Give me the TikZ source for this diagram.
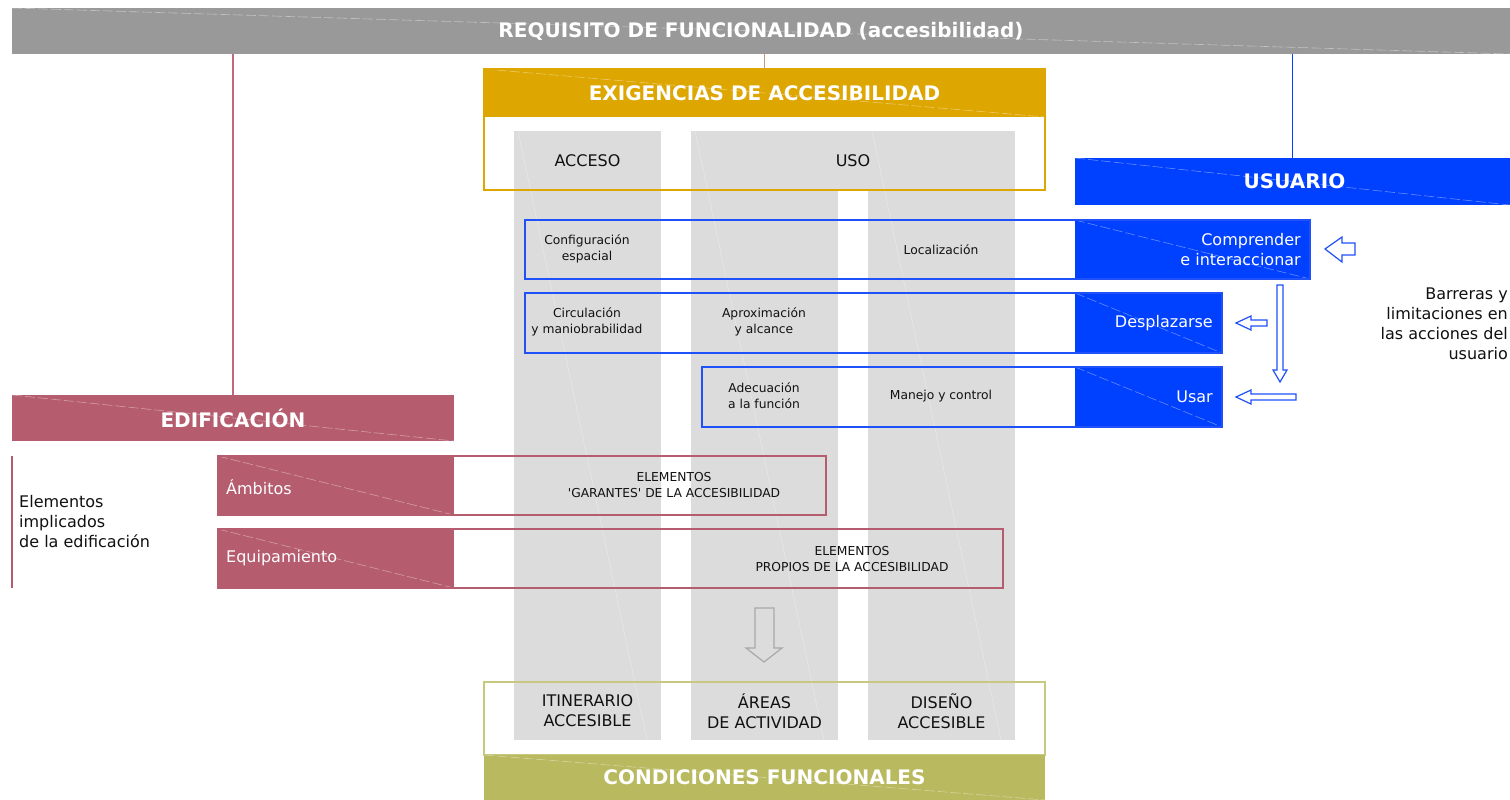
\documentclass[tikz,border=0pt]{standalone}
\usepackage{fontspec}
\setmainfont{DejaVu Sans}[Ligatures=TeXOff]
\usetikzlibrary{fit}
\definecolor{bargray}{HTML}{999999}
\definecolor{colgray}{HTML}{DCDCDC}
\definecolor{exyellow}{HTML}{DDA600}
\definecolor{userblue}{HTML}{0040FF}
\definecolor{lineblue}{HTML}{2050F8}
\definecolor{edpink}{HTML}{B65C6F}
\definecolor{pinkline}{HTML}{C0687C}
\definecolor{tanline}{HTML}{C4967A}
\definecolor{olive}{HTML}{B9B960}
\definecolor{oliveline}{HTML}{C8C880}
\definecolor{arrowgray}{HTML}{A8A8A8}
\definecolor{txt}{HTML}{111111}
\begin{document}
\begin{tikzpicture}[x=1pt,y=-1pt,
  area/.style={fit={#1}, inner sep=0pt, outer sep=0pt},
  glossy/.style={path picture={\draw[draw=white, draw opacity=.4, line width=.6pt, dash pattern=on 10pt off 3pt]
      (path picture bounding box.north west) -- (path picture bounding box.south east);}},
  faint/.style={path picture={\draw[draw=white, draw opacity=.35, line width=.5pt]
      ([xshift=4pt]path picture bounding box.north west) -- ([xshift=-14pt]path picture bounding box.south east);}},
  head/.style={text=white, font=\fontsize{20}{24}\selectfont\bfseries, inner sep=0pt},
  med/.style={text=txt, font=\fontsize{16}{20}\selectfont, align=center, inner sep=0pt},
  small/.style={text=txt, font=\fontsize{12.3}{16}\selectfont, align=center, inner sep=0pt},
  whitetxt/.style={text=white, font=\fontsize{16}{20}\selectfont, inner sep=0pt},
  blueout/.style={draw=lineblue, line width=1.8pt},
  pinkout/.style={draw=edpink, line width=1.8pt},
  hollowblue/.style={draw=lineblue, line width=1.2pt, fill=white, line join=miter},
]
\useasboundingbox[fill=white] (0,0) rectangle (1510,800);

% gray columns
\node[area={(514,131)(661,740)}, fill=colgray, faint] (cacc) {};
\node[area={(691,131)(838,740)}, fill=colgray, faint] (cuso1) {};
\node[area={(868,131)(1015,740)}, fill=colgray, faint] (cuso2) {};
\node[area={(837,131)(869,190)}, fill=colgray] (cusoj) {};

% top bar
\node[area={(12,8)(1510,54)}, fill=bargray, glossy] (req) {};
\node[head] (reqt) at (req.center) {REQUISITO DE FUNCIONALIDAD (accesibilidad)};

% exigencias
\node[area={(484,69)(1045,117)}, fill=exyellow, glossy] (exig) {};
\node[head] (exigt) at (exig.center) {EXIGENCIAS DE ACCESIBILIDAD};
\node[area={(484,69)(1045,190)}, draw=exyellow, line width=1.5pt] (exigbox) {};
\node[med] (acceso) at (587.5,161) {ACCESO};
\node[med] (uso) at (853,161) {USO};
\draw[tanline, line width=1.5pt] (req.south -| exig.north) -- (exig.north);

% usuario
\node[area={(1075,158)(1510,205)}, fill=userblue, glossy] (user) {};
\node[head] (usert) at ([xshift=2pt]user.center) {USUARIO};
\draw[userblue, line width=1.5pt] (req.south -| user.north) -- (user.north);

% row 1
\node[area={(1075,220)(1310,279)}, fill=userblue, glossy] (comp) {};
\node[area={(525,220)(1310,279)}, blueout] (row1) {};
\node[whitetxt, anchor=east, align=right] (compt) at ([xshift=-9pt]comp.east) {Comprender\\e interaccionar};
\node[small] (conf) at (587,249) {Configuración\\espacial};
\node[small] (loc) at (941,250) {Localización};

% row 2
\node[area={(1075,293)(1222,353)}, fill=userblue, glossy] (desp) {};
\node[area={(525,293)(1222,353)}, blueout] (row2) {};
\node[whitetxt, anchor=east] (despt) at ([xshift=-9pt]desp.east) {Desplazarse};
\node[small] (circ) at (587,322) {Circulación\\y maniobrabilidad};
\node[small] (aprox) at (764,322) {Aproximación\\y alcance};

% row 3
\node[area={(1075,367)(1222,427)}, fill=userblue, glossy] (usar) {};
\node[area={(702,367)(1222,427)}, blueout] (row3) {};
\node[whitetxt, anchor=east] (usart) at ([xshift=-9pt]usar.east) {Usar};
\node[small] (adec) at (764,396) {Adecuación\\a la función};
\node[small] (manejo) at (941,396) {Manejo y control};

% barreras
\node[med, anchor=east, align=right] (barr) at (1508,324) {Barreras y\\limitaciones en\\las acciones del\\usuario};

% hollow arrows
\draw[hollowblue] (1325,249) -- (1342,237) -- (1342,243) -- (1355,243) -- (1355,255) -- (1342,255) -- (1342,262) -- cycle;
\draw[hollowblue] (1277,285) -- (1283,285) -- (1283,370) -- (1287,370) -- (1280,382) -- (1273,370) -- (1277,370) -- cycle;
\draw[hollowblue] (1236,323) -- (1251,316) -- (1251,320) -- (1267,320) -- (1267,326) -- (1251,326) -- (1251,330) -- cycle;
\draw[hollowblue] (1236,397) -- (1251,390) -- (1251,394) -- (1296,394) -- (1296,400) -- (1251,400) -- (1251,404) -- cycle;

% edificacion
\node[area={(12,395)(454,441)}, fill=edpink, glossy] (edif) {};
\node[head] (ediftext) at (edif.center) {EDIFICACIÓN};
\draw[pinkline, line width=1.5pt] (req.south -| edif.north) -- (edif.north);
\coordinate (brtop) at (12,456);
\coordinate (brbot) at (12,588);
\draw[edpink, line width=1.8pt] (brtop) -- (brbot);
\node[med, anchor=west, align=left] (impl) at (19,522) {Elementos\\implicados\\de la edificación};

\node[area={(218,456)(454,515)}, fill=edpink, glossy] (amb) {};
\node[area={(218,456)(826,515)}, pinkout] (ambbox) {};
\node[whitetxt, anchor=west] (ambt) at ([xshift=8pt,yshift=-2pt]amb.west) {Ámbitos};
\node[small] (garantes) at (674,485) {ELEMENTOS\\'GARANTES' DE LA ACCESIBILIDAD};

\node[area={(218,529)(454,588)}, fill=edpink, glossy] (equip) {};
\node[area={(218,529)(1003,588)}, pinkout] (equipbox) {};
\node[whitetxt, anchor=west] (equipt) at ([xshift=8pt]equip.west) {Equipamiento};
\node[small] (propios) at (852,559) {ELEMENTOS\\PROPIOS DE LA ACCESIBILIDAD};

% gray arrow
\draw[arrowgray, line width=1.2pt, line join=miter] (755,608) -- (774,608) -- (774,648) -- (782,648) -- (764,662) -- (746,648) -- (755,648) -- cycle;

% condiciones
\node[area={(484,682)(1045,755)}, draw=oliveline, line width=1.5pt] (condbox) {};
\node[area={(484,755)(1045,800)}, fill=olive, glossy] (cond) {};
\node[head] (condt) at (cond.center) {CONDICIONES FUNCIONALES};
\node[med] (itin) at (587.5,711) {ITINERARIO\\ACCESIBLE};
\node[med] (areas) at (764.5,711) {ÁREAS\\DE ACTIVIDAD};
\node[med] (dis) at (941.5,711) {DISEÑO\\ACCESIBLE};
\end{tikzpicture}
\end{document}
